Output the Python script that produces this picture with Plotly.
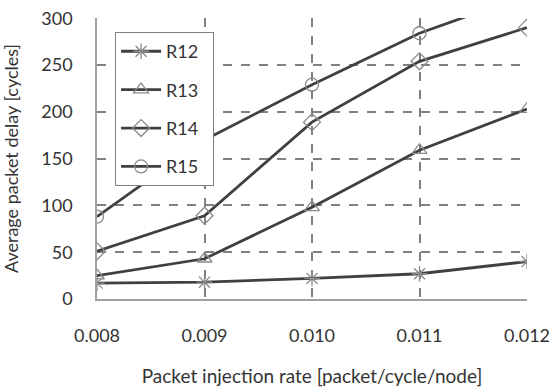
import plotly.graph_objects as go

rates = [0.008, 0.009, 0.010, 0.011, 0.012]
tick_labels = ["0.008", "0.009", "0.010", "0.011", "0.012"]
r12 = [17, 18, 22, 27, 40]
r13 = [25, 43, 98, 159, 203]
r14 = [51, 89, 189, 254, 290]
r15 = [88, 170, 229, 284, 325]

series = [("R12", r12, "asterisk-open"), ("R13", r13, "triangle-up-open"),
          ("R14", r14, "diamond-open"), ("R15", r15, "circle-open")]

FONT = "Lato, Open Sans, sans-serif"
fig = go.Figure()
for name, vals, sym in series:
    fig.add_trace(go.Scatter(
        x=rates, y=vals, name=name + "\u00a0\u00a0", legendgroup=name, mode="lines+markers",
        line=dict(color="#404040", width=2.8),
        marker=dict(symbol=sym, size=13, color="#8a8a8a", line=dict(width=1.3, color="#8a8a8a")),
    ))

fig.update_layout(
    width=554, height=387,
    margin=dict(l=97, r=27, t=18, b=88, autoexpand=False),
    paper_bgcolor="white", plot_bgcolor="white",
    font=dict(family=FONT, size=18, color="#333333"),
    showlegend=True,
    legend=dict(x=0.042, y=0.950, xanchor="left", yanchor="top",
                bordercolor="#808080", borderwidth=1, bgcolor="white",
                font=dict(size=18, color="#333333"), tracegroupgap=12,
                itemwidth=40),
    xaxis=dict(range=[0.008, 0.012], tickvals=rates, ticktext=tick_labels,
               showgrid=True, gridcolor="#808080", griddash="dash", gridwidth=1.5,
               showline=True, linecolor="#a0a0a0", linewidth=1.5,
               zeroline=False, ticks="", ticklabelstandoff=20, automargin=False,
               ticklabeloverflow="allow",
               title=dict(text="Packet injection rate [packet/cycle/node]", standoff=27,
                          font=dict(size=19))),
    yaxis=dict(range=[0, 300.3], tickvals=[0, 50, 100, 150, 200, 250, 300],
               showgrid=True, gridcolor="#808080", griddash="dash", gridwidth=1.5,
               showline=True, linecolor="#a0a0a0", linewidth=1.5,
               zeroline=False, ticks="", ticklabelstandoff=19, automargin=False,
               ticklabeloverflow="allow",
               title=dict(text="Average packet delay [cycles]", standoff=18,
                          font=dict(size=18))),
)
fig.write_html("out.html", config={"displayModeBar": False},
               post_script="document.body.style.margin='0';document.documentElement.style.overflow='hidden';")
